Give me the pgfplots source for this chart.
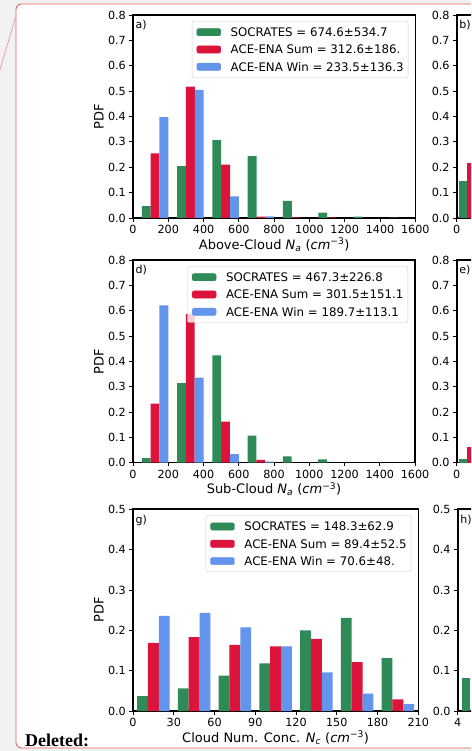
\documentclass[border=0pt]{standalone}
\usepackage{pgfplots}
\pgfplotsset{compat=1.18}
\usepackage{fontspec}
\setmainfont{DejaVu Sans}
\newfontfamily\timesfont{Liberation Serif}
\definecolor{socgreen}{HTML}{2E8B57}
\definecolor{sumred}{HTML}{DC143C}
\definecolor{winblue}{HTML}{6495ED}
\definecolor{cmtred}{RGB}{226,96,96}
\definecolor{pagegray}{HTML}{F2F2F2}
\newcommand{\tickfont}{\fontsize{11.2}{12}\selectfont}
\newcommand{\legfont}{\fontsize{11.8}{13}\selectfont}
\newcommand{\labfont}{\fontsize{13}{15}\selectfont}
\pgfplotsset{
  pan/.style={
    scale only axis, anchor=south west,
    axis line style={line width=1.6pt, black},
    tick align=outside, tick pos=left,
    major tick length=3.6pt,
    every tick/.style={black, line width=0.8pt},
    ymin=0,
    ybar, bar shift=0pt,
    scaled ticks=false,
    /pgf/number format/assume math mode=true,
    /pgf/number format/1000 sep={},
    yticklabel style={font=\tickfont, /pgf/number format/fixed, /pgf/number format/fixed zerofill, /pgf/number format/precision=1},
    xticklabel style={font=\tickfont},
    ylabel style={font=\labfont, inner sep=1pt},
    xlabel style={font=\labfont, inner sep=1pt},
    legend cell align=left,
    legend style={at={(1,1)}, anchor=north east, xshift=-7pt, yshift=-6.3pt,
      draw=black!20, rounded corners=2pt, fill=white, fill opacity=0.8, text opacity=1,
      font=\legfont, inner xsep=4.5pt, inner ysep=6.4pt, row sep=8.7pt, column sep=9.7pt,
      nodes={inner sep=0pt, text height=8.6pt, text depth=0pt}},
  },
  gimg/.style={legend image code/.code={\fill[socgreen, fill opacity=1] (0pt,-3.6pt) rectangle (24pt,3.6pt);}},
  rimg/.style={legend image code/.code={\fill[sumred, fill opacity=1] (0pt,-3.6pt) rectangle (24pt,3.6pt);}},
  bimg/.style={legend image code/.code={\fill[winblue, fill opacity=1] (0pt,-3.6pt) rectangle (24pt,3.6pt);}},
  gbar/.style={fill=socgreen, draw=none, forget plot},
  rbar/.style={fill=sumred, draw=none, forget plot},
  bbar/.style={fill=winblue, draw=none, forget plot},
}
\newcommand{\plab}[1]{\node[anchor=north west, inner sep=0pt, font=\fontsize{11}{12}\selectfont] at (rel axis cs:0,1) [xshift=2.5pt, yshift=-5.2pt] {#1};}
\begin{document}
\begin{tikzpicture}[x=1pt,y=1pt]
\useasboundingbox (0,0) rectangle (471,751);
\clip (0,0) rectangle (471,751);
\fill[pagegray] (0,0) rectangle (471,751);
\draw[cmtred, line width=0.9pt, fill=white, rounded corners=5pt] (16,3) rectangle (540,747);
\draw[cmtred!60, line width=0.8pt] (15.7,734.3) -- (-1,678);
\node[anchor=base west, inner sep=0pt, font=\timesfont\bfseries\fontsize{18}{20}\selectfont] at (25,5) {Deleted:};

% ---------- a) ----------
\begin{axis}[pan, at={(133pt,533pt)}, width=282.3pt, height=203pt,
  xmin=0, xmax=1600, ymax=0.8, bar width=50,
  xtick={0,200,400,600,800,1000,1200,1400,1600},
  ytick={0,0.1,0.2,0.3,0.4,0.5,0.6,0.7,0.8},
  xlabel={Above-Cloud \textit{N}\textsubscript{\textit{a}} (\textit{cm}\textsuperscript{−3})},
  ylabel={PDF}]
\addlegendimage{gimg}\addlegendentry{SOCRATES = 674.6±534.7}
\addlegendimage{rimg}\addlegendentry{ACE-ENA Sum = 312.6±186.}
\addlegendimage{bimg}\addlegendentry{ACE-ENA Win = 233.5±136.3}
\addplot[gbar] coordinates {(75,0.047) (275,0.204) (475,0.307) (675,0.244) (875,0.067) (1075,0.021) (1275,0.005) (1475,0.001)};
\addplot[rbar] coordinates {(125,0.255) (325,0.518) (525,0.210) (725,0.005) (925,0.002) (1125,0.002)};
\addplot[bbar] coordinates {(175,0.398) (375,0.505) (575,0.085) (775,0.006)};
\plab{a)}
\end{axis}

% ---------- b) ----------
\begin{axis}[pan, at={(456.7pt,533pt)}, width=282.3pt, height=203pt,
  xmin=0, xmax=282, ymax=0.8, bar width=8,
  xtick={0}, xticklabels={0},
  ytick={0,0.1,0.2,0.3,0.4,0.5,0.6,0.7,0.8}]
\addplot[gbar] coordinates {(6.6,0.147)};
\addplot[rbar] coordinates {(14.6,0.218)};
\plab{b)}
\end{axis}

% ---------- d) ----------
\begin{axis}[pan, at={(133pt,288.3pt)}, width=282pt, height=202.7pt,
  xmin=0, xmax=1600, ymax=0.8, bar width=50,
  xtick={0,200,400,600,800,1000,1200,1400,1600},
  ytick={0,0.1,0.2,0.3,0.4,0.5,0.6,0.7,0.8},
  xlabel={Sub-Cloud \textit{N}\textsubscript{\textit{a}} (\textit{cm}\textsuperscript{−3})},
  ylabel={PDF}]
\addlegendimage{gimg}\addlegendentry{SOCRATES = 467.3±226.8}
\addlegendimage{rimg}\addlegendentry{ACE-ENA Sum = 301.5±151.1}
\addlegendimage{bimg}\addlegendentry{ACE-ENA Win = 189.7±113.1}
\addplot[gbar] coordinates {(75,0.018) (275,0.314) (475,0.424) (675,0.107) (875,0.025) (1075,0.013)};
\addplot[rbar] coordinates {(125,0.233) (325,0.587) (525,0.162) (725,0.011)};
\addplot[bbar] coordinates {(175,0.621) (375,0.336) (575,0.034) (775,0.004)};
\plab{d)}
\end{axis}

% ---------- e) ----------
\begin{axis}[pan, at={(456.7pt,288.3pt)}, width=282pt, height=202.7pt,
  xmin=0, xmax=282, ymax=0.8, bar width=8,
  xtick={0}, xticklabels={0},
  ytick={0,0.1,0.2,0.3,0.4,0.5,0.6,0.7,0.8}]
\addplot[gbar] coordinates {(6.6,0.013)};
\addplot[rbar] coordinates {(14.6,0.060)};
\plab{e)}
\end{axis}

% ---------- g) ----------
\begin{axis}[pan, at={(133pt,40pt)}, width=285.3pt, height=201.7pt,
  xmin=0, xmax=210, ymax=0.5, bar width=8,
  xtick={0,30,60,90,120,150,180,210},
  ytick={0,0.1,0.2,0.3,0.4,0.5},
  xlabel={Cloud Num. Conc. \textit{N}\textsubscript{\textit{c}} (\textit{cm}\textsuperscript{−3})},
  ylabel={PDF}]
\addlegendimage{gimg}\addlegendentry{SOCRATES = 148.3±62.9}
\addlegendimage{rimg}\addlegendentry{ACE-ENA Sum = 89.4±52.5}
\addlegendimage{bimg}\addlegendentry{ACE-ENA Win = 70.6±48.}
\addplot[gbar] coordinates {(7,0.037) (37,0.056) (67,0.088) (97,0.118) (127,0.200) (157,0.231) (187,0.131)};
\addplot[rbar] coordinates {(15,0.169) (45,0.183) (75,0.164) (105,0.160) (135,0.179) (165,0.121) (195,0.029)};
\addplot[bbar] coordinates {(23,0.236) (53,0.243) (83,0.207) (113,0.160) (143,0.096) (173,0.043) (203,0.017)};
\plab{g)}
\end{axis}

% ---------- h) ----------
\begin{axis}[pan, at={(457.7pt,40pt)}, width=285.3pt, height=201.7pt,
  xmin=0, xmax=282, ymax=0.5, bar width=8.3,
  xtick={0}, xticklabels={4},
  ytick={0,0.1,0.2,0.3,0.4,0.5}]
\addplot[gbar] coordinates {(8.15,0.083)};
\plab{h)}
\end{axis}
\end{tikzpicture}
\end{document}
